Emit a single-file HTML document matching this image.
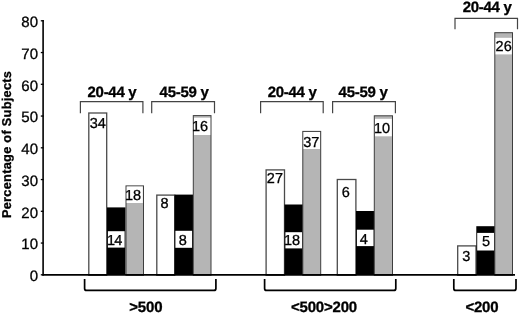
<!DOCTYPE html>
<html><head><meta charset="utf-8"><style>
html,body{margin:0;padding:0;background:#fff;}
svg{display:block;filter:blur(0.35px);font-family:"Liberation Sans",sans-serif;}
text{stroke:#000;stroke-width:0.3px;text-rendering:geometricPrecision;}
</style></head><body>
<svg width="520" height="314" viewBox="0 0 520 314">
<rect width="520" height="314" fill="#fff"/>
<rect x="88.80" y="113.00" width="17.90" height="162.30" fill="#fff" stroke="#4a4a4a" stroke-width="1.3"/>
<text x="89.65" y="127.72" font-size="14.5" font-weight="normal" fill="#000">34</text>
<rect x="107.00" y="207.40" width="18.50" height="67.30" fill="#000"/>
<rect x="107.90" y="231.20" width="16.70" height="16.40" fill="#fff"/>
<text x="107.10" y="244.52" font-size="14.5" letter-spacing="-1.0">14</text>
<rect x="126.00" y="185.90" width="17.50" height="89.40" fill="#b5b5b5" stroke="#3e3e3e" stroke-width="1.0"/>
<rect x="126.70" y="186.50" width="16.10" height="16.50" fill="#fff"/>
<text x="125.00" y="199.62" font-size="14.5" font-weight="normal" fill="#000">18</text>
<rect x="156.80" y="195.10" width="17.90" height="80.20" fill="#fff" stroke="#4a4a4a" stroke-width="1.3"/>
<text x="160.57" y="207.62" font-size="14.5" font-weight="normal" fill="#000">8</text>
<rect x="174.50" y="194.60" width="18.50" height="80.10" fill="#000"/>
<rect x="175.40" y="230.80" width="16.70" height="17.00" fill="#fff"/>
<text x="178.67" y="244.72" font-size="14.5" font-weight="normal" fill="#000">8</text>
<rect x="193.30" y="115.60" width="17.70" height="159.70" fill="#b5b5b5" stroke="#3e3e3e" stroke-width="1.0"/>
<rect x="194.00" y="117.70" width="16.30" height="17.30" fill="#fff"/>
<text x="192.00" y="131.22" font-size="14.5" font-weight="normal" fill="#000">16</text>
<rect x="266.10" y="169.90" width="18.40" height="105.40" fill="#fff" stroke="#4a4a4a" stroke-width="1.3"/>
<text x="266.87" y="182.52" font-size="14.5" font-weight="normal" fill="#000">27</text>
<rect x="284.50" y="204.50" width="18.50" height="70.20" fill="#000"/>
<rect x="285.40" y="232.20" width="16.70" height="16.20" fill="#fff"/>
<text x="283.90" y="245.32" font-size="14.5" font-weight="normal" fill="#000">18</text>
<rect x="302.80" y="131.40" width="17.90" height="143.90" fill="#b5b5b5" stroke="#3e3e3e" stroke-width="1.0"/>
<rect x="303.50" y="132.00" width="16.50" height="17.00" fill="#fff"/>
<text x="303.15" y="147.22" font-size="14.5" font-weight="normal" fill="#000">37</text>
<rect x="337.30" y="179.50" width="18.60" height="95.80" fill="#fff" stroke="#4a4a4a" stroke-width="1.3"/>
<text x="341.86" y="197.32" font-size="14.5" font-weight="normal" fill="#000">6</text>
<rect x="356.00" y="211.00" width="18.50" height="63.70" fill="#000"/>
<rect x="356.90" y="229.70" width="16.70" height="16.40" fill="#fff"/>
<text x="359.77" y="243.72" font-size="14.5" font-weight="normal" fill="#000">4</text>
<rect x="374.30" y="115.80" width="18.20" height="159.50" fill="#b5b5b5" stroke="#3e3e3e" stroke-width="1.0"/>
<rect x="375.00" y="118.80" width="16.80" height="17.50" fill="#fff"/>
<text x="374.00" y="133.12" font-size="14.5" font-weight="normal" fill="#000">10</text>
<rect x="457.70" y="245.90" width="18.30" height="29.40" fill="#fff" stroke="#4a4a4a" stroke-width="1.3"/>
<text x="462.25" y="261.32" font-size="14.5" font-weight="normal" fill="#000">3</text>
<rect x="476.30" y="226.20" width="18.70" height="48.50" fill="#000"/>
<rect x="477.20" y="232.90" width="16.90" height="17.60" fill="#fff"/>
<text x="481.92" y="246.22" font-size="14.5" font-weight="normal" fill="#000">5</text>
<rect x="494.80" y="32.70" width="17.70" height="242.60" fill="#b5b5b5" stroke="#3e3e3e" stroke-width="1.0"/>
<rect x="495.50" y="37.80" width="16.30" height="16.60" fill="#fff"/>
<text x="495.57" y="51.12" font-size="14.5" font-weight="normal" fill="#000">26</text>
<line x1="40.80" y1="274.80" x2="43.50" y2="274.80" stroke="#000" stroke-width="1.3"/>
<text x="29.64" y="281.00" font-size="15" font-weight="normal" fill="#000">0</text>
<line x1="40.80" y1="243.05" x2="43.50" y2="243.05" stroke="#000" stroke-width="1.3"/>
<text x="21.30" y="249.25" font-size="15" font-weight="normal" fill="#000">10</text>
<line x1="40.80" y1="211.30" x2="43.50" y2="211.30" stroke="#000" stroke-width="1.3"/>
<text x="21.30" y="217.50" font-size="15" font-weight="normal" fill="#000">20</text>
<line x1="40.80" y1="179.55" x2="43.50" y2="179.55" stroke="#000" stroke-width="1.3"/>
<text x="21.30" y="185.75" font-size="15" font-weight="normal" fill="#000">30</text>
<line x1="40.80" y1="147.80" x2="43.50" y2="147.80" stroke="#000" stroke-width="1.3"/>
<text x="21.30" y="154.00" font-size="15" font-weight="normal" fill="#000">40</text>
<line x1="40.80" y1="116.05" x2="43.50" y2="116.05" stroke="#000" stroke-width="1.3"/>
<text x="21.30" y="122.25" font-size="15" font-weight="normal" fill="#000">50</text>
<line x1="40.80" y1="84.30" x2="43.50" y2="84.30" stroke="#000" stroke-width="1.3"/>
<text x="21.30" y="90.50" font-size="15" font-weight="normal" fill="#000">60</text>
<line x1="40.80" y1="52.55" x2="43.50" y2="52.55" stroke="#000" stroke-width="1.3"/>
<text x="21.30" y="58.75" font-size="15" font-weight="normal" fill="#000">70</text>
<line x1="40.80" y1="20.80" x2="43.50" y2="20.80" stroke="#000" stroke-width="1.3"/>
<text x="21.30" y="27.00" font-size="15" font-weight="normal" fill="#000">80</text>
<line x1="43.10" y1="20.00" x2="43.10" y2="275.60" stroke="#000" stroke-width="1.6"/>
<line x1="42.30" y1="274.95" x2="515.00" y2="274.95" stroke="#000" stroke-width="1.7"/>
<path d="M80.40,113.30 L80.40,101.60 L142.90,101.60 L142.90,113.30" fill="none" stroke="#444" stroke-width="1.2"/>
<text x="87.53" y="96.70" font-size="15.0" font-weight="bold" fill="#000" letter-spacing="-0.28">20-44 y</text>
<path d="M151.70,113.30 L151.70,101.60 L214.50,101.60 L214.50,113.30" fill="none" stroke="#444" stroke-width="1.2"/>
<text x="159.58" y="96.70" font-size="15.0" font-weight="bold" fill="#000" letter-spacing="-0.28">45-59 y</text>
<path d="M260.60,113.30 L260.60,101.60 L323.20,101.60 L323.20,113.30" fill="none" stroke="#444" stroke-width="1.2"/>
<text x="267.73" y="96.70" font-size="15.0" font-weight="bold" fill="#000" letter-spacing="-0.28">20-44 y</text>
<path d="M332.60,113.30 L332.60,101.60 L395.40,101.60 L395.40,113.30" fill="none" stroke="#444" stroke-width="1.2"/>
<text x="338.58" y="96.70" font-size="15.0" font-weight="bold" fill="#000" letter-spacing="-0.28">45-59 y</text>
<path d="M455.00,29.30 L455.00,18.30 L517.50,18.30 L517.50,29.30" fill="none" stroke="#444" stroke-width="1.2"/>
<text x="462.63" y="11.90" font-size="15.0" font-weight="bold" fill="#000" letter-spacing="-0.28">20-44 y</text>
<path d="M84.60,279.00 L84.60,288.40 Q84.60,290.40 86.60,290.40 L213.90,290.40 Q215.90,290.40 215.90,288.40 L215.90,279.00" fill="none" stroke="#000" stroke-width="1.7"/>
<path d="M264.60,279.00 L264.60,288.40 Q264.60,290.40 266.60,290.40 L393.80,290.40 Q395.80,290.40 395.80,288.40 L395.80,279.00" fill="none" stroke="#000" stroke-width="1.7"/>
<path d="M453.80,279.00 L453.80,288.40 Q453.80,290.40 455.80,290.40 L514.00,290.40 Q516.00,290.40 516.00,288.40 L516.00,279.00" fill="none" stroke="#000" stroke-width="1.7"/>
<text x="129.30" y="311.90" font-size="15.0" font-weight="bold" fill="#000" letter-spacing="-0.2">&gt;500</text>
<text x="291.01" y="311.60" font-size="15.0" font-weight="bold" fill="#000" letter-spacing="-0.2">&lt;500&gt;200</text>
<text x="465.40" y="311.60" font-size="15.0" font-weight="bold" fill="#000" letter-spacing="-0.2">&lt;200</text>
<text transform="translate(10.6,218.07) rotate(-90)" x="0" y="0" font-size="12.8" font-weight="bold" letter-spacing="0.26">Percentage of Subjects</text>
</svg>
</body></html>
